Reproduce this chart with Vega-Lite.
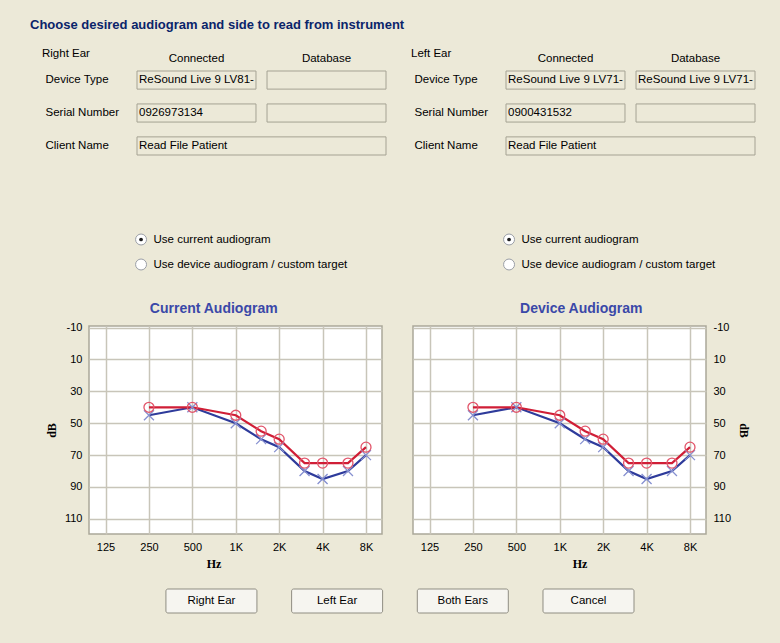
{
  "$schema": "https://vega.github.io/schema/vega-lite/v6.json",
  "background": "#ECE9D8",
  "padding": {"left": 30, "top": 18, "right": 26, "bottom": 30},
  "title": {"text": "Choose desired audiogram and side to read from instrument", "anchor": "start", "frame": "group", "dx": -59, "offset": 16, "fontSize": 13, "fontWeight": "bold", "color": "#0A246A", "font": "Liberation Sans"},
  "datasets": {
    "audiogram": [
      {"panel": "Current Audiogram", "ear": "Left", "freq": 250, "dB": 45},
      {"panel": "Current Audiogram", "ear": "Left", "freq": 500, "dB": 40},
      {"panel": "Current Audiogram", "ear": "Left", "freq": 1000, "dB": 50},
      {"panel": "Current Audiogram", "ear": "Left", "freq": 1500, "dB": 60},
      {"panel": "Current Audiogram", "ear": "Left", "freq": 2000, "dB": 65},
      {"panel": "Current Audiogram", "ear": "Left", "freq": 3000, "dB": 80},
      {"panel": "Current Audiogram", "ear": "Left", "freq": 4000, "dB": 85},
      {"panel": "Current Audiogram", "ear": "Left", "freq": 6000, "dB": 80},
      {"panel": "Current Audiogram", "ear": "Left", "freq": 8000, "dB": 70},
      {"panel": "Current Audiogram", "ear": "Right", "freq": 250, "dB": 40},
      {"panel": "Current Audiogram", "ear": "Right", "freq": 500, "dB": 40},
      {"panel": "Current Audiogram", "ear": "Right", "freq": 1000, "dB": 45},
      {"panel": "Current Audiogram", "ear": "Right", "freq": 1500, "dB": 55},
      {"panel": "Current Audiogram", "ear": "Right", "freq": 2000, "dB": 60},
      {"panel": "Current Audiogram", "ear": "Right", "freq": 3000, "dB": 75},
      {"panel": "Current Audiogram", "ear": "Right", "freq": 4000, "dB": 75},
      {"panel": "Current Audiogram", "ear": "Right", "freq": 6000, "dB": 75},
      {"panel": "Current Audiogram", "ear": "Right", "freq": 8000, "dB": 65},
      {"panel": "Device Audiogram", "ear": "Left", "freq": 250, "dB": 45},
      {"panel": "Device Audiogram", "ear": "Left", "freq": 500, "dB": 40},
      {"panel": "Device Audiogram", "ear": "Left", "freq": 1000, "dB": 50},
      {"panel": "Device Audiogram", "ear": "Left", "freq": 1500, "dB": 60},
      {"panel": "Device Audiogram", "ear": "Left", "freq": 2000, "dB": 65},
      {"panel": "Device Audiogram", "ear": "Left", "freq": 3000, "dB": 80},
      {"panel": "Device Audiogram", "ear": "Left", "freq": 4000, "dB": 85},
      {"panel": "Device Audiogram", "ear": "Left", "freq": 6000, "dB": 80},
      {"panel": "Device Audiogram", "ear": "Left", "freq": 8000, "dB": 70},
      {"panel": "Device Audiogram", "ear": "Right", "freq": 250, "dB": 40},
      {"panel": "Device Audiogram", "ear": "Right", "freq": 500, "dB": 40},
      {"panel": "Device Audiogram", "ear": "Right", "freq": 1000, "dB": 45},
      {"panel": "Device Audiogram", "ear": "Right", "freq": 1500, "dB": 55},
      {"panel": "Device Audiogram", "ear": "Right", "freq": 2000, "dB": 60},
      {"panel": "Device Audiogram", "ear": "Right", "freq": 3000, "dB": 75},
      {"panel": "Device Audiogram", "ear": "Right", "freq": 4000, "dB": 75},
      {"panel": "Device Audiogram", "ear": "Right", "freq": 6000, "dB": 75},
      {"panel": "Device Audiogram", "ear": "Right", "freq": 8000, "dB": 65}
    ],
    "devices": [
      {"ear": "Right", "field": "Device Type", "source": "Connected", "sourceEnd": "Connected", "value": "ReSound Live 9 LV81-"},
      {"ear": "Right", "field": "Device Type", "source": "Database", "sourceEnd": "Database", "value": ""},
      {"ear": "Right", "field": "Serial Number", "source": "Connected", "sourceEnd": "Connected", "value": "0926973134"},
      {"ear": "Right", "field": "Serial Number", "source": "Database", "sourceEnd": "Database", "value": ""},
      {"ear": "Right", "field": "Client Name", "source": "Connected", "sourceEnd": "Database", "value": "Read File  Patient"},
      {"ear": "Left", "field": "Device Type", "source": "Connected", "sourceEnd": "Connected", "value": "ReSound Live 9 LV71-"},
      {"ear": "Left", "field": "Device Type", "source": "Database", "sourceEnd": "Database", "value": "ReSound Live 9 LV71-"},
      {"ear": "Left", "field": "Serial Number", "source": "Connected", "sourceEnd": "Connected", "value": "0900431532"},
      {"ear": "Left", "field": "Serial Number", "source": "Database", "sourceEnd": "Database", "value": ""},
      {"ear": "Left", "field": "Client Name", "source": "Connected", "sourceEnd": "Database", "value": "Read File  Patient"}
    ],
    "options": [
      {"ear": "Right", "option": "Use current audiogram", "selected": true},
      {"ear": "Right", "option": "Use device audiogram / custom target", "selected": false},
      {"ear": "Left", "option": "Use current audiogram", "selected": true},
      {"ear": "Left", "option": "Use device audiogram / custom target", "selected": false}
    ],
    "buttons": [
      {"label": "Right Ear"},
      {"label": "Left Ear"},
      {"label": "Both Ears"},
      {"label": "Cancel"}
    ]
  },
  "spacing": 23,
  "vconcat": [
    {
      "spacing": 71,
      "vconcat": [
        {
          "spacing": 24,
          "hconcat": [
            {
              "width": 297, "height": 84,
              "title": {"text": "Right Ear", "anchor": "start", "frame": "bounds", "dx": -3, "offset": -7, "fontSize": 11.5, "fontWeight": "normal", "font": "Liberation Sans", "color": "#000000"},
              "data": {"name": "devices"},
              "transform": [{"filter": "datum.ear === 'Right'"}],
              "encoding": {
                "y": {"field": "field", "type": "nominal", "scale": {"type": "band", "domain": ["Device Type", "Serial Number", "Client Name"], "paddingInner": 0.45, "paddingOuter": 0}, "axis": {"orient": "left", "labelAlign": "left", "labelPadding": 44, "title": null, "labelFontSize": 11.5}},
                "x": {"field": "source", "type": "nominal", "scale": {"type": "band", "domain": ["Connected", "Database"], "paddingInner": 0.085, "paddingOuter": 0.1846, "align": 1}, "axis": {"orient": "top", "title": null, "labelPadding": 8, "labelAngle": 0, "labelFontSize": 11.5}}
              },
              "layer": [
                {"mark": {"type": "rect", "fill": "#ECE9D8", "stroke": "#A5A293", "strokeWidth": 1}, "encoding": {"x": {"field": "source", "type": "nominal", "bandPosition": 0}, "x2": {"field": "sourceEnd", "bandPosition": 1}}},
                {"mark": {"type": "text", "align": "left", "dx": 2, "fontSize": 11.5, "color": "#000000"}, "encoding": {"x": {"field": "source", "type": "nominal", "bandPosition": 0}, "text": {"field": "value"}}}
              ]
            },
            {
              "width": 297, "height": 84,
              "title": {"text": "Left Ear", "anchor": "start", "frame": "bounds", "dx": -3, "offset": -7, "fontSize": 11.5, "fontWeight": "normal", "font": "Liberation Sans", "color": "#000000"},
              "data": {"name": "devices"},
              "transform": [{"filter": "datum.ear === 'Left'"}],
              "encoding": {
                "y": {"field": "field", "type": "nominal", "scale": {"type": "band", "domain": ["Device Type", "Serial Number", "Client Name"], "paddingInner": 0.45, "paddingOuter": 0}, "axis": {"orient": "left", "labelAlign": "left", "labelPadding": 44, "title": null, "labelFontSize": 11.5}},
                "x": {"field": "source", "type": "nominal", "scale": {"type": "band", "domain": ["Connected", "Database"], "paddingInner": 0.085, "paddingOuter": 0.1846, "align": 1}, "axis": {"orient": "top", "title": null, "labelPadding": 8, "labelAngle": 0, "labelFontSize": 11.5}}
              },
              "layer": [
                {"mark": {"type": "rect", "fill": "#ECE9D8", "stroke": "#A5A293", "strokeWidth": 1}, "encoding": {"x": {"field": "source", "type": "nominal", "bandPosition": 0}, "x2": {"field": "sourceEnd", "bandPosition": 1}}},
                {"mark": {"type": "text", "align": "left", "dx": 2, "fontSize": 11.5, "color": "#000000"}, "encoding": {"x": {"field": "source", "type": "nominal", "bandPosition": 0}, "text": {"field": "value"}}}
              ]
            }
          ]
        },
        {
          "spacing": 71,
          "hconcat": [
            {
              "width": 297, "height": 50,
              "data": {"name": "options"},
              "transform": [{"filter": "datum.ear === 'Right'"}],
              "encoding": {
                "x": {"datum": "Connected", "type": "nominal", "bandPosition": 0.034, "scale": {"type": "band", "domain": ["Connected", "Database"], "paddingInner": 0.085, "paddingOuter": 0.1846, "align": 1}, "axis": null},
                "y": {"field": "option", "type": "nominal", "sort": null, "axis": null}
              },
              "layer": [
                {"mark": {"type": "point", "shape": "circle", "filled": true, "fill": "#FFFFFF", "stroke": "#9A9EA6", "strokeWidth": 1, "size": 120, "opacity": 1}},
                {"transform": [{"filter": "datum.selected"}], "mark": {"type": "point", "shape": "circle", "filled": true, "color": "#1E1E1E", "size": 14, "opacity": 1}},
                {"mark": {"type": "text", "align": "left", "dx": 12.5, "fontSize": 11.5, "color": "#000000"}, "encoding": {"text": {"field": "option"}}}
              ]
            },
            {
              "width": 297, "height": 50,
              "data": {"name": "options"},
              "transform": [{"filter": "datum.ear === 'Left'"}],
              "encoding": {
                "x": {"datum": "Connected", "type": "nominal", "bandPosition": 0.034, "scale": {"type": "band", "domain": ["Connected", "Database"], "paddingInner": 0.085, "paddingOuter": 0.1846, "align": 1}, "axis": null},
                "y": {"field": "option", "type": "nominal", "sort": null, "axis": null}
              },
              "layer": [
                {"mark": {"type": "point", "shape": "circle", "filled": true, "fill": "#FFFFFF", "stroke": "#9A9EA6", "strokeWidth": 1, "size": 120, "opacity": 1}},
                {"transform": [{"filter": "datum.selected"}], "mark": {"type": "point", "shape": "circle", "filled": true, "color": "#1E1E1E", "size": 14, "opacity": 1}},
                {"mark": {"type": "text", "align": "left", "dx": 12.5, "fontSize": 11.5, "color": "#000000"}, "encoding": {"text": {"field": "option"}}}
              ]
            }
          ]
        }
      ]
    },
    {
      "spacing": 18,
      "vconcat": [
        {
          "spacing": 29,
          "hconcat": [
            {
              "width": 293, "height": 208,
              "view": {"fill": "#FFFFFF", "stroke": "#ABA899", "strokeWidth": 1.5},
              "title": {"text": "Current Audiogram", "frame": "bounds", "anchor": "middle", "fontSize": 14, "fontWeight": "bold", "font": "Liberation Sans", "color": "#3A48A8", "offset": 6},
              "data": {"name": "audiogram"},
              "transform": [{"filter": "datum.panel === 'Current Audiogram'"}],
              "encoding": {
                "x": {"field": "freq", "type": "quantitative", "scale": {"type": "log", "base": 2, "domain": [96, 10330], "nice": false},
                  "axis": {"values": [125, 250, 500, 1000, 2000, 4000, 8000], "labelExpr": "datum.value >= 1000 ? (datum.value / 1000) + 'K' : '' + datum.value", "title": "Hz", "titleX": 124.5, "grid": true, "gridColor": "#C8C5B9", "gridWidth": 1.5, "labelPadding": 7, "titlePadding": 6}},
                "y": {"field": "dB", "type": "quantitative", "scale": {"domain": [-11, 119.5], "reverse": true, "nice": false, "zero": false},
                  "axis": {"orient": "left", "values": [-10, 10, 30, 50, 70, 90, 110], "labelExpr": "'' + datum.value", "title": "dB", "grid": true, "gridColor": "#C8C5B9", "gridWidth": 1.5, "labelPadding": 7, "titlePadding": 6}}
              },
              "layer": [
                {"mark": {"type": "line", "strokeWidth": 2.2}, "encoding": {"color": {"field": "ear", "type": "nominal", "scale": {"domain": ["Left", "Right"], "range": ["#2E3B9B", "#D01E36"]}, "legend": null}}},
                {"mark": {"type": "point", "filled": false, "strokeWidth": 1.3, "size": 100, "opacity": 1}, "encoding": {
                  "stroke": {"field": "ear", "type": "nominal", "scale": {"domain": ["Left", "Right"], "range": ["#8690D0", "#E2556A"]}, "legend": null},
                  "shape": {"field": "ear", "type": "nominal", "scale": {"domain": ["Left", "Right"], "range": ["M-1,-1L1,1M-1,1L1,-1", "circle"]}, "legend": null}}}
              ]
            },
            {
              "width": 293, "height": 208,
              "view": {"fill": "#FFFFFF", "stroke": "#ABA899", "strokeWidth": 1.5},
              "title": {"text": "Device Audiogram", "frame": "bounds", "anchor": "middle", "fontSize": 14, "fontWeight": "bold", "font": "Liberation Sans", "color": "#3A48A8", "offset": 6},
              "data": {"name": "audiogram"},
              "transform": [{"filter": "datum.panel === 'Device Audiogram'"}],
              "encoding": {
                "x": {"field": "freq", "type": "quantitative", "scale": {"type": "log", "base": 2, "domain": [96, 10330], "nice": false},
                  "axis": {"values": [125, 250, 500, 1000, 2000, 4000, 8000], "labelExpr": "datum.value >= 1000 ? (datum.value / 1000) + 'K' : '' + datum.value", "title": "Hz", "titleX": 166.5, "grid": true, "gridColor": "#C8C5B9", "gridWidth": 1.5, "labelPadding": 7, "titlePadding": 6}},
                "y": {"field": "dB", "type": "quantitative", "scale": {"domain": [-11, 119.5], "reverse": true, "nice": false, "zero": false},
                  "axis": {"orient": "right", "values": [-10, 10, 30, 50, 70, 90, 110], "labelExpr": "'' + datum.value", "title": "dB", "grid": true, "gridColor": "#C8C5B9", "gridWidth": 1.5, "labelPadding": 7, "titlePadding": 6}}
              },
              "layer": [
                {"mark": {"type": "line", "strokeWidth": 2.2}, "encoding": {"color": {"field": "ear", "type": "nominal", "scale": {"domain": ["Left", "Right"], "range": ["#2E3B9B", "#D01E36"]}, "legend": null}}},
                {"mark": {"type": "point", "filled": false, "strokeWidth": 1.3, "size": 100, "opacity": 1}, "encoding": {
                  "stroke": {"field": "ear", "type": "nominal", "scale": {"domain": ["Left", "Right"], "range": ["#8690D0", "#E2556A"]}, "legend": null},
                  "shape": {"field": "ear", "type": "nominal", "scale": {"domain": ["Left", "Right"], "range": ["M-1,-1L1,1M-1,1L1,-1", "circle"]}, "legend": null}}}
              ]
            }
          ]
        },
        {
          "width": 545, "height": 24,
          "data": {"name": "buttons"},
          "encoding": {
            "x": {"field": "label", "type": "nominal", "sort": null, "scale": {"type": "band", "paddingInner": 0.276, "paddingOuter": 0.306, "align": 1}, "axis": null}
          },
          "layer": [
            {"mark": {"type": "rect", "fill": "#F6F5F0", "stroke": "#8F8D82", "strokeWidth": 1, "cornerRadius": 2}},
            {"mark": {"type": "text", "fontSize": 11.5, "color": "#000000"}, "encoding": {"text": {"field": "label"}}}
          ]
        }
      ]
    }
  ],
  "config": {
    "font": "Liberation Sans",
    "view": {"stroke": null},
    "axis": {"labelFont": "Liberation Sans", "labelFontSize": 11, "labelColor": "#000000", "domain": false, "ticks": false, "titleFont": "Liberation Serif", "titleFontSize": 12, "titleFontWeight": "bold", "titleColor": "#000000"}
  }
}
